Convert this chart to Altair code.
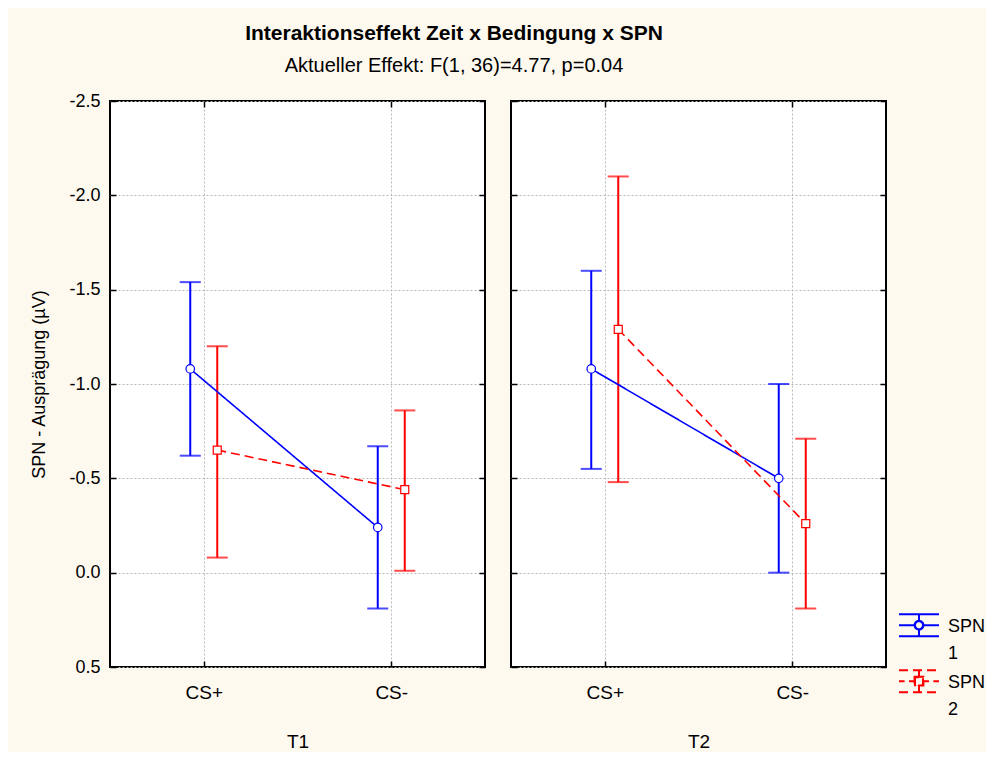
import json
import altair as alt
import pandas as pd

# ---------------- data ----------------
times = ["T1", "T2"]
conditions = ["CS+", "CS-"]
series_names = ["SPN 1", "SPN 2"]
# order of values: T1 CS+, T1 CS-, T2 CS+, T2 CS-
spn1_mean = [-1.08, -0.24, -1.08, -0.50]
spn1_upper = [-1.54, -0.67, -1.60, -1.00]
spn1_lower = [-0.62, 0.19, -0.55, 0.00]
spn2_mean = [-0.65, -0.44, -1.29, -0.26]
spn2_upper = [-1.20, -0.86, -2.10, -0.71]
spn2_lower = [-0.08, -0.01, -0.48, 0.19]
y_ticks = [-2.5, -2.0, -1.5, -1.0, -0.5, 0.0, 0.5]

title_text = "Interaktionseffekt Zeit x Bedingung x SPN"
subtitle_text = "Aktueller Effekt: F(1, 36)=4.77, p=0.04"
y_title = "SPN - Ausprägung (µV)"

rows = []
for s, (m, u, l) in zip(series_names, [(spn1_mean, spn1_upper, spn1_lower),
                                       (spn2_mean, spn2_upper, spn2_lower)]):
    k = 0
    for t in times:
        for ci, c in enumerate(conditions):
            rows.append(dict(time=t, cond=c, ci=ci + 1, series=s,
                             mean=m[k], upper=u[k], lower=l[k]))
            k += 1
df = pd.DataFrame(rows)

# ---------------- styles ----------------
FONT = "Liberation Sans"
BLUE = "#0000FF"
RED = "#FF0000"
GRID = "#b8b8b8"
BG = "#FEF9EF"
W, H = 375, 566
OFF = 0.072
LBL = 18      # tick label size
XL = 19       # x label / facet title size

# legend symbols: error-bar icons (units: half of sqrt(symbolSize))
sym_shift = -0.34
def yy(v):
    return round(v + sym_shift, 3)
c0 = yy(0)
ring = (f"M0.22,{c0}A0.22,0.22 0 1,1 -0.22,{c0}A0.22,0.22 0 1,1 0.22,{c0}Z"
        f"M0.2,{c0}A0.2,0.2 0 1,0 -0.2,{c0}A0.2,0.2 0 1,0 0.2,{c0}Z")
box = (f"M-0.22,{yy(-0.22)}H0.22V{yy(0.22)}H-0.22Z"
       f"M-0.2,{yy(-0.2)}V{yy(0.2)}H0.2V{yy(-0.2)}Z")
path1 = (f"M-1,{yy(-0.55)}H1M-1,{yy(0.55)}H1"
         f"M0,{yy(-0.55)}V{yy(-0.22)}M0,{yy(0.22)}V{yy(0.55)}"
         f"M-1,{c0}H-0.22M0.22,{c0}H1" + ring)
path2 = (f"M-1,{yy(-0.55)}H1M-1,{yy(0.55)}H1"
         f"M0,{yy(-0.55)}V{yy(-0.22)}M0,{yy(0.22)}V{yy(0.55)}"
         f"M-1,{c0}H-0.72M-0.5,{c0}H-0.22M0.22,{c0}H0.5M0.72,{c0}H1" + box)

xs = alt.Scale(domain=[0.5, 2.5], nice=False, zero=False)
ys = alt.Scale(domain=[-2.5, 0.5], reverse=True, nice=False, zero=False)
color_scale = alt.Scale(domain=series_names, range=[BLUE, RED])
color_plain = alt.Color("series:N", scale=color_scale)

x_label_expr = json.dumps(conditions) + "[datum.value - 1]"
y_label_expr = "replace(format(datum.value, '.1f'), '\u2212', '-')"

XN = alt.X("xpos:Q", axis=None)


def YN(f):
    return alt.Y(f, axis=None)


def panel(t, first):
    base = alt.Chart(df).transform_filter(alt.datum.time == t).transform_calculate(
        xpos=f"datum.ci + (datum.series == '{series_names[0]}' ? {-OFF} : {OFF})"
    )
    x_axis = alt.Axis(orient="bottom", values=[1, 2], labelExpr=x_label_expr, title=t,
                      offset=-6, tickSize=6, tickWidth=1.5, tickColor="black", domain=False,
                      grid=True, gridColor=GRID, gridDash=[2, 2], gridWidth=1,
                      labelFont=FONT, labelFontSize=XL, labelColor="black", labelPadding=16,
                      titleFont=FONT, titleFontSize=XL, titleFontWeight="normal",
                      titleColor="black", titlePadding=30)
    yk = dict(orient="left", values=y_ticks, offset=-6, tickSize=6, tickWidth=1.5,
              tickColor="black", domain=False, grid=True, gridColor=GRID,
              gridDash=[2, 2], gridWidth=1)
    if first:
        yk.update(labelExpr=y_label_expr, labelFont=FONT, labelFontSize=LBL,
                  labelColor="black", labelPadding=10, title=y_title, titleFont=FONT,
                  titleFontSize=18, titleFontWeight="normal", titleColor="black",
                  titlePadding=20)
    else:
        yk.update(labels=False, title="")
    y_axis = alt.Axis(**yk)
    top_axis = alt.Axis(orient="top", values=[1, 2], offset=-6, tickSize=6, tickWidth=1.5,
                        tickColor="black", domain=False, grid=False, labels=False, title="")
    right_axis = alt.Axis(orient="right", values=y_ticks, offset=-6, tickSize=6, tickWidth=1.5,
                          tickColor="black", domain=False, grid=False, labels=False, title="")

    layers = []
    if first:
        leg = alt.Legend(orient="none", legendX=788, legendY=510, title=None,
                         labelFont=FONT, labelFontSize=18, labelColor="black",
                         labelExpr="split(datum.label, ' ')", labelBaseline="alphabetic",
                         labelLimit=200, symbolSize=1600, symbolStrokeWidth=2,
                         labelOffset=8, rowPadding=3, symbolFillColor="transparent",
                         symbolOpacity=1)
        legend_layer = base.mark_point(filled=False, size=1600, strokeWidth=2).encode(
            x=alt.X("xpos:Q", scale=xs, axis=x_axis),
            y=alt.Y("mean:Q", scale=ys, axis=y_axis),
            color=alt.Color("series:N", scale=color_scale, legend=leg),
            shape=alt.Shape("series:N", scale=alt.Scale(domain=series_names, range=[path1, path2]), legend=leg),
            opacity=alt.Opacity("cond:N", scale=alt.Scale(domain=conditions, range=[0, 0]), legend=None),
        )
        layers.append(legend_layer)
        bars = base.mark_rule(strokeWidth=2).encode(
            x=XN, y=YN("upper:Q"), y2="lower:Q", color=color_plain)
    else:
        bars = base.mark_rule(strokeWidth=2).encode(
            x=alt.X("xpos:Q", scale=xs, axis=x_axis),
            y=alt.Y("upper:Q", scale=ys, axis=y_axis), y2="lower:Q", color=color_plain)
    frame_axes = base.mark_point(opacity=0).encode(
        x=alt.X("xpos:Q", scale=xs, axis=top_axis),
        y=alt.Y("mean:Q", scale=ys, axis=right_axis))
    cap_hi = base.mark_tick(orient="horizontal", size=21, thickness=2).encode(
        x=XN, y=YN("upper:Q"), color=color_plain)
    cap_lo = base.mark_tick(orient="horizontal", size=21, thickness=2).encode(
        x=XN, y=YN("lower:Q"), color=color_plain)
    lines = base.mark_line(strokeWidth=1.6).encode(
        x=XN, y=YN("mean:Q"), color=color_plain,
        strokeDash=alt.StrokeDash("series:N", scale=alt.Scale(domain=series_names,
                                  range=[[1, 0], [9, 5]]), legend=None),
        order="ci:Q")
    pts1 = base.transform_filter(alt.datum.series == series_names[0]).mark_point(
        shape="circle", filled=False, fill="white", fillOpacity=1, size=72,
        strokeWidth=1.2, opacity=1).encode(x=XN, y=YN("mean:Q"), color=color_plain)
    pts2 = base.transform_filter(alt.datum.series == series_names[1]).mark_point(
        shape="square", filled=False, fill="white", fillOpacity=1, size=64,
        strokeWidth=1.2, opacity=1).encode(x=XN, y=YN("mean:Q"), color=color_plain)
    layers += [bars, frame_axes, cap_hi, cap_lo, lines, pts1, pts2]
    return alt.layer(*layers).resolve_axis(x="independent", y="independent").properties(
        width=W, height=H)


chart = alt.hconcat(panel(times[0], True), panel(times[1], False), spacing=22).properties(
    title=alt.TitleParams(text=title_text, subtitle=subtitle_text, font=FONT, fontSize=21,
                          fontWeight="bold", color="black", subtitleFont=FONT,
                          subtitleFontSize=20, subtitleColor="black", subtitlePadding=12,
                          anchor="middle", offset=15, dx=-54),
    padding={"left": 21, "top": 15, "right": 0, "bottom": 0},
).configure(
    background=BG, style={"guide-label": {"lineHeight": 27}}
).configure_view(fill="white", stroke="black", strokeWidth=2)

chart.save("out.html", embed_options={"renderer": "svg", "actions": False})
